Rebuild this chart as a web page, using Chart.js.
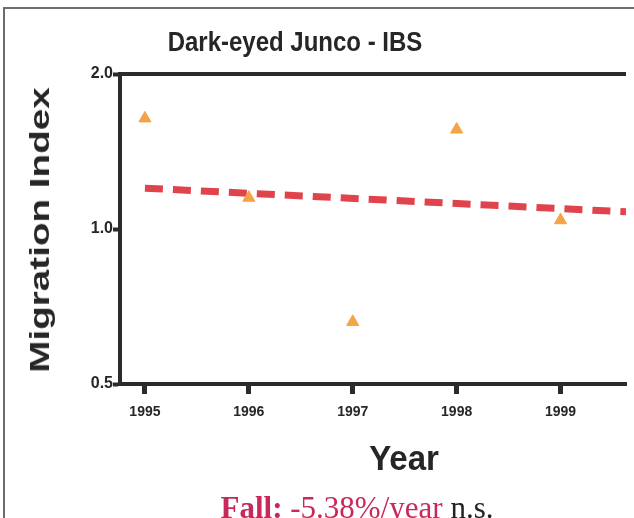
<!DOCTYPE html>
<html>
<head>
<meta charset="utf-8">
<script src="https://cdn.jsdelivr.net/npm/chart.js@4/dist/chart.umd.min.js"></script>
<style>
  html, body { margin: 0; padding: 0; background: #fff; }
  #wrap { position: relative; width: 634px; height: 518px; overflow: hidden; }
  #c { position: absolute; left: 0; top: 0; }
  .txt { position: absolute; white-space: nowrap; line-height: 1; }
  #title { left: 295px; top: 25px; transform: translateX(-50%) scaleY(1.16); transform-origin: 50% 0; font: bold 24px "Liberation Sans", Arial, sans-serif; color: #262626; }
  #ytitle { left: 40px; top: 230px; transform: translate(-50%, -50%) rotate(-90deg) scaleX(1.38); font: bold 28px "Liberation Sans", Arial, sans-serif; color: #262626; }
  #xtitle { left: 404px; top: 438px; transform: translateX(-50%) scaleY(1.08); transform-origin: 50% 0; font: bold 33px "Liberation Sans", Arial, sans-serif; color: #262626; }
  #footer { left: 357px; top: 490px; transform: translateX(-50%); font: 31px "Liberation Serif", "Times New Roman", serif; color: #222; }
  #footer .red { color: #c8285a; }
</style>
</head>
<body>
<div id="wrap">
  <canvas id="c" width="634" height="518"></canvas>
  <div id="title" class="txt">Dark-eyed Junco - IBS</div>
  <div id="ytitle" class="txt">Migration Index</div>
  <div id="xtitle" class="txt">Year</div>
  <div id="footer" class="txt"><b class="red">Fall:</b> <span class="red">-5.38%/year</span> n.s.</div>
</div>
<script>
const years = [1995, 1996, 1997, 1998, 1999];
const migrationIndex = [1.64, 1.15, 0.66, 1.56, 1.04];
const trendYears = [1995, 1999.63];
const trendValues = [1.20, 1.08];
const yTickValues = [0.5, 1.0, 2.0];
const xTickValues = [1995, 1996, 1997, 1998, 1999];

const axisColor = '#2b2b2b';

const framePlugin = {
  id: 'frame',
  beforeDraw(chart) {
    const ctx = chart.ctx;
    ctx.save();
    ctx.fillStyle = '#ffffff';
    ctx.fillRect(0, 0, chart.width, chart.height);
    ctx.strokeStyle = '#6d6d6d';
    ctx.lineWidth = 2;
    ctx.beginPath();
    ctx.moveTo(4, chart.height);
    ctx.lineTo(4, 8);
    ctx.lineTo(chart.width, 8);
    ctx.stroke();
    ctx.restore();
  },
  afterDraw(chart) {
    const a = chart.chartArea;
    const ctx = chart.ctx;
    ctx.save();
    ctx.strokeStyle = axisColor;
    ctx.lineWidth = 4;
    ctx.beginPath();
    ctx.moveTo(a.left - 2, a.top);
    ctx.lineTo(a.right, a.top);
    ctx.stroke();
    ctx.restore();
  }
};

new Chart(document.getElementById('c'), {
  type: 'scatter',
  data: {
    datasets: [
      {
        type: 'scatter',
        label: 'Migration Index',
        data: years.map((x, i) => ({ x, y: migrationIndex[i] })),
        pointStyle: 'triangle',
        pointRadius: 7,
        backgroundColor: '#f5a347',
        borderColor: '#f5a347',
        borderWidth: 1,
        order: 1
      },
      {
        type: 'line',
        label: 'Trend',
        data: trendYears.map((x, i) => ({ x, y: trendValues[i] })),
        borderColor: '#e0434b',
        borderWidth: 7,
        borderDash: [18, 10],
        borderCapStyle: 'butt',
        pointRadius: 0,
        fill: false,
        order: 2
      }
    ]
  },
  options: {
    responsive: false,
    animation: false,
    devicePixelRatio: 1,
    layout: { padding: { top: 74, right: 4, left: 0, bottom: 0 } },
    plugins: { legend: { display: false }, tooltip: { enabled: false }, title: { display: false } },
    scales: {
      x: {
        type: 'linear',
        min: 1994.76,
        max: 1999.63,
        afterBuildTicks: (s) => { s.ticks = xTickValues.map(v => ({ value: v })); },
        afterFit: (s) => { s.height = 134; },
        ticks: {
          callback: (v) => String(v),
          autoSkip: false,
          maxRotation: 0,
          padding: 10,
          color: '#262626',
          font: { family: '"Liberation Sans", Arial, sans-serif', size: 14, weight: 'bold' }
        },
        grid: { drawOnChartArea: false, drawTicks: true, tickLength: 10, tickWidth: 5, color: axisColor },
        border: { display: true, color: axisColor, width: 4 }
      },
      y: {
        type: 'logarithmic',
        min: 0.5,
        max: 2.0,
        afterBuildTicks: (s) => { s.ticks = yTickValues.map(v => ({ value: v })); },
        afterFit: (s) => { s.width = 120; },
        ticks: {
          callback: (v) => Number(v).toFixed(1),
          autoSkip: false,
          padding: 0,
          color: '#262626',
          font: { family: '"Liberation Sans", Arial, sans-serif', size: 16, weight: 'bold' }
        },
        grid: { drawOnChartArea: false, drawTicks: true, tickLength: 7, tickWidth: 4, color: axisColor },
        border: { display: true, color: axisColor, width: 4 }
      }
    }
  },
  plugins: [framePlugin]
});
</script>
</body>
</html>
